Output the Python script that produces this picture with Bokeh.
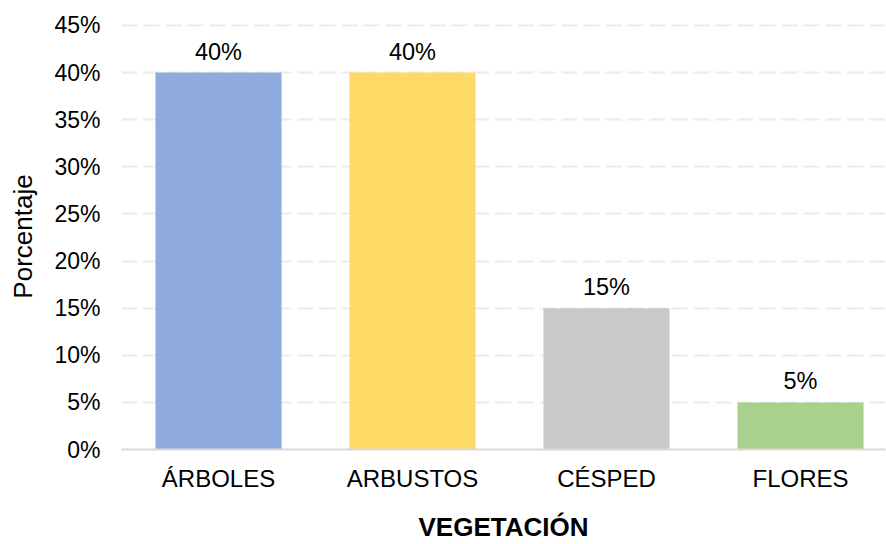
from bokeh.plotting import figure
from bokeh.models import ColumnDataSource, Range1d, FixedTicker
from bokeh.core.properties import value
from bokeh.embed import file_html
from bokeh.resources import INLINE

categories = ["ÁRBOLES", "ARBUSTOS", "CÉSPED", "FLORES"]
values = [40, 40, 15, 5]
colors = ["#8FAADC", "#FFD966", "#C9C9C9", "#A9D18E"]
y_ticks = [0, 5, 10, 15, 20, 25, 30, 35, 40, 45]

xs = list(range(len(categories)))
src = ColumnDataSource(dict(
    x=xs, top=values, color=colors,
    label=[f"{v}%" for v in values],
))

FONT = "Liberation Sans"

p = figure(width=886, height=544, output_backend="svg", toolbar_location=None,
           x_range=Range1d(-0.5, -0.5 + 764 / 194), y_range=Range1d(0, 45.2),
           min_border_left=121, min_border_right=1, min_border_top=23, min_border_bottom=95)
p.outline_line_color = None
p.background_fill_color = "white"
p.border_fill_color = "white"

p.vbar(x="x", top="top", width=0.65, bottom=0, color="color", source=src, line_color=None)
p.text(x="x", y="top", text="label", source=src, text_align="center",
       text_baseline="middle", y_offset=-21, text_font=value(FONT),
       text_font_size="23.5px", text_color="#000000")

# grid
p.xgrid.grid_line_color = None
p.ygrid.ticker = FixedTicker(ticks=y_ticks)
p.ygrid.grid_line_color = "#EBEBEB"
p.ygrid.grid_line_width = 2
p.ygrid.grid_line_dash = "16 6"

# y axis
p.yaxis.ticker = FixedTicker(ticks=y_ticks)
p.yaxis.major_label_overrides = {t: f"{t}%" for t in y_ticks}
p.yaxis.axis_line_color = None
p.yaxis.major_tick_line_color = None
p.yaxis.minor_tick_line_color = None
p.yaxis.major_tick_out = 0
p.yaxis.major_tick_in = 0
p.yaxis.major_label_standoff = 21
p.yaxis.major_label_text_font = FONT
p.yaxis.major_label_text_font_size = "23px"
p.yaxis.major_label_text_color = "#000000"
p.yaxis.axis_label = "Porcentaje"
p.yaxis.axis_label_text_font = FONT
p.yaxis.axis_label_text_font_size = "26px"
p.yaxis.axis_label_text_font_style = "normal"
p.yaxis.axis_label_text_color = "#000000"
p.yaxis.axis_label_standoff = 13

# x axis
p.xaxis.ticker = FixedTicker(ticks=xs)
p.xaxis.major_label_overrides = {i: c for i, c in zip(xs, categories)}
p.xaxis.axis_line_color = "#D9D9D9"
p.xaxis.axis_line_width = 2
p.xaxis.major_tick_line_color = None
p.xaxis.minor_tick_line_color = None
p.xaxis.major_tick_out = 0
p.xaxis.major_tick_in = 0
p.xaxis.major_label_standoff = 15
p.xaxis.major_label_text_font = FONT
p.xaxis.major_label_text_font_size = "24px"
p.xaxis.major_label_text_color = "#000000"
p.xaxis.axis_label = "VEGETACIÓN"
p.xaxis.axis_label_text_font = FONT
p.xaxis.axis_label_text_font_size = "26px"
p.xaxis.axis_label_text_font_style = "bold"
p.xaxis.axis_label_text_color = "#000000"
p.xaxis.axis_label_standoff = 17

open("out.html", "w").write(file_html(p, INLINE))
